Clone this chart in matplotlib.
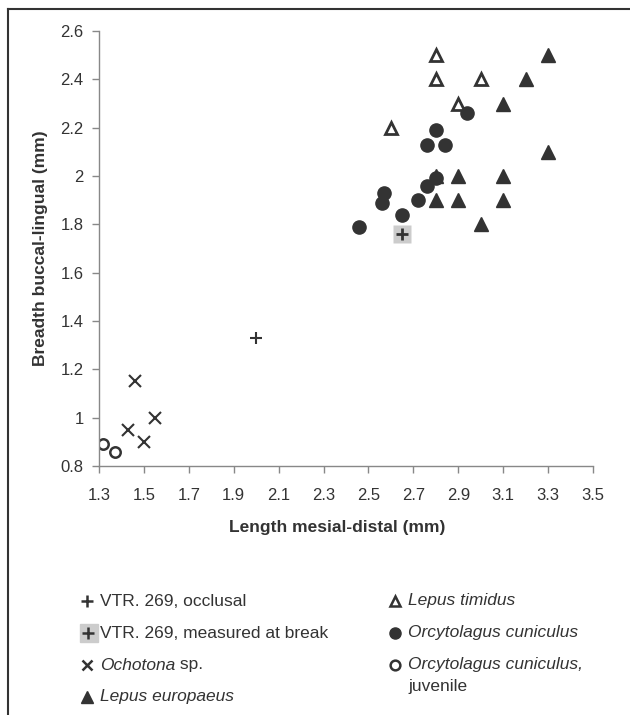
import matplotlib.pyplot as plt
from matplotlib.lines import Line2D
from matplotlib.ticker import FuncFormatter

plt.rcParams['font.family'] = ['Liberation Sans', 'DejaVu Sans']

# tooth measurements, length (x) and breadth (y) in mm
vtr_occlusal_x = [2.0]
vtr_occlusal_y = [1.33]

vtr_break_x = [2.65]
vtr_break_y = [1.76]

ochotona_x = [1.46, 1.55, 1.43, 1.50]
ochotona_y = [1.15, 1.00, 0.95, 0.90]

europaeus_x = [3.3, 3.2, 3.1, 3.3, 2.8, 2.9, 3.1, 2.8, 2.9, 3.1, 3.0]
europaeus_y = [2.5, 2.4, 2.3, 2.1, 2.0, 2.0, 2.0, 1.9, 1.9, 1.9, 1.8]

timidus_x = [2.8, 2.8, 3.0, 2.9, 2.6]
timidus_y = [2.5, 2.4, 2.4, 2.3, 2.2]

cuniculus_x = [2.94, 2.80, 2.76, 2.84, 2.80, 2.76, 2.57, 2.56, 2.72, 2.65, 2.46]
cuniculus_y = [2.26, 2.19, 2.13, 2.13, 1.99, 1.96, 1.93, 1.89, 1.90, 1.84, 1.79]

juvenile_x = [1.32, 1.37]
juvenile_y = [0.89, 0.86]

x_ticks = [1.3, 1.5, 1.7, 1.9, 2.1, 2.3, 2.5, 2.7, 2.9, 3.1, 3.3, 3.5]
y_ticks = [0.8, 1.0, 1.2, 1.4, 1.6, 1.8, 2.0, 2.2, 2.4, 2.6]

W, H = 630, 715
ink = '#333333'
box_grey = '#cccccc'
fs = 12.5

fig = plt.figure(figsize=(W / 100, H / 100), dpi=100)
ax = fig.add_axes([99 / W, 1 - 466 / H, 494 / W, 435 / H])


def fx(px):
    return px / W


def fy(py):
    return 1 - py / H


# data
ax.plot(juvenile_x, juvenile_y, 'o', ms=7.5, mfc='white', mec=ink, mew=1.8, ls='none')
ax.plot(ochotona_x, ochotona_y, 'x', ms=8.5, mec=ink, mew=1.5, ls='none')
ax.plot(cuniculus_x, cuniculus_y, 'o', ms=9.5, color=ink, ls='none')
ax.plot(europaeus_x, europaeus_y, '^', ms=10, color=ink, ls='none')
ax.plot(timidus_x, timidus_y, '^', ms=9, mfc='white', mec=ink, mew=2, ls='none')
ax.plot(vtr_break_x, vtr_break_y, 's', ms=13, color=box_grey, mec='none', ls='none')
ax.plot(vtr_break_x, vtr_break_y, '+', ms=8, mec=ink, mew=2, ls='none')
ax.plot(vtr_occlusal_x, vtr_occlusal_y, '+', ms=8, mec=ink, mew=1.5, ls='none')

ax.set_xlim(1.3, 3.5)
ax.set_ylim(0.8, 2.6)
ax.set_xticks(x_ticks)
ax.set_yticks(y_ticks)
ax.xaxis.set_major_formatter(FuncFormatter(lambda v, p: '%g' % round(v, 2)))
ax.yaxis.set_major_formatter(FuncFormatter(lambda v, p: '%g' % round(v, 2)))
ax.tick_params(direction='out', length=5, width=1, color='#888888',
               labelsize=12, labelcolor=ink)
ax.tick_params(axis='x', pad=11)
ax.tick_params(axis='y', pad=6)
for side in ['top', 'right']:
    ax.spines[side].set_visible(False)
for side in ['left', 'bottom']:
    ax.spines[side].set_color('#888888')
    ax.spines[side].set_linewidth(1)

ax.set_xlabel('Length mesial-distal (mm)', fontsize=fs, fontweight='bold', color=ink)
ax.set_ylabel('Breadth buccal-lingual (mm)', fontsize=fs, fontweight='bold', color=ink)
ax.xaxis.set_label_coords((337 - 99) / 494, (466 - 520) / 435)
ax.yaxis.set_label_coords((48 - 99) / 494, 0.5)

# outer frame
fig.add_artist(Line2D([fx(8), fx(8)], [fy(9), 0], transform=fig.transFigure,
                      color=ink, lw=1.5))
fig.add_artist(Line2D([fx(8), 1], [fy(9), fy(9)], transform=fig.transFigure,
                      color=ink, lw=1.5))


# key below the plot
def key_marker(px, py, **kw):
    fig.add_artist(Line2D([fx(px)], [fy(py)], transform=fig.transFigure,
                          ls='none', **kw))


def key_text(px, py, parts):
    t = fig.text(fx(px), fy(py), parts[0][0], style=parts[0][1], fontsize=fs,
                 color=ink, va='center', ha='left')
    for s, st in parts[1:]:
        t = ax.annotate(s, xy=(1, 0), xycoords=t, va='bottom', ha='left',
                        style=st, fontsize=fs, color=ink, annotation_clip=False)
    return t


rows = [601, 633, 665, 697]
lx, ltx = 87, 100
rx, rtx = 395, 408

key_marker(lx, rows[0], marker='+', ms=8, mec=ink, mew=1.8)
key_text(ltx, rows[0], [('VTR. 269, occlusal', 'normal')])

fig.patches.append(plt.Rectangle((fx(80), fy(rows[1] + 9)), 18 / W, 18 / H,
                                 transform=fig.transFigure, color=box_grey))
key_marker(lx + 1, rows[1], marker='+', ms=8, mec=ink, mew=1.8)
key_text(ltx, rows[1], [('VTR. 269, measured at break', 'normal')])

key_marker(lx, rows[2], marker='x', ms=7, mec=ink, mew=1.8)
key_text(ltx, rows[2], [('Ochotona', 'italic'), (' sp.', 'normal')])

key_marker(lx, rows[3], marker='^', ms=8, color=ink)
key_text(ltx, rows[3], [('Lepus europaeus', 'italic')])

key_marker(rx, rows[0], marker='^', ms=7, mfc='white', mec=ink, mew=1.8)
key_text(rtx, rows[0], [('Lepus timidus', 'italic')])

key_marker(rx, rows[1], marker='o', ms=8, color=ink)
key_text(rtx, rows[1], [('Orcytolagus cuniculus', 'italic')])

key_marker(rx, rows[2], marker='o', ms=7, mfc='white', mec=ink, mew=1.8)
key_text(rtx, rows[2], [('Orcytolagus cuniculus,', 'italic')])
key_text(rtx, rows[2] + 21, [('juvenile', 'normal')])

fig.savefig('out.png', dpi=100)
